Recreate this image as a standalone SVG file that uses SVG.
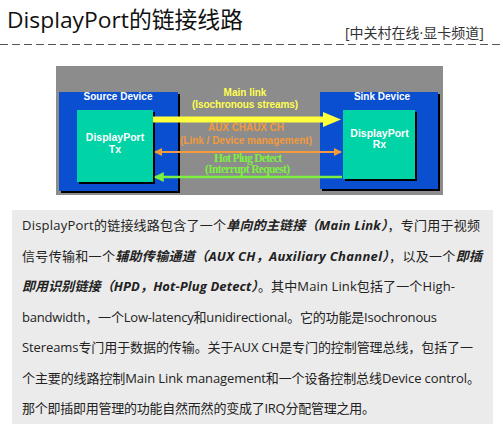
<svg xmlns="http://www.w3.org/2000/svg" width="500" height="444" viewBox="0 0 500 444">
<defs>
<style>
.cjk{font-family:"Open Sans","Noto Sans CJK SC",sans-serif;fill:#222}
.dia{font-family:"Liberation Sans",Arial,sans-serif;font-weight:bold;text-anchor:middle}
.ser{font-family:"Liberation Serif","Times New Roman",serif;font-weight:bold;text-anchor:middle}
.w{fill:#ffffff}
.b{font-weight:bold;font-style:italic}
.shadow{fill:#000}
.blue{fill:#0a4fd0}
.teal{fill:#00d3a6}
</style>
<marker id="oa" viewBox="0 0 8 8" refX="7" refY="4" markerWidth="4" markerHeight="4" orient="auto-start-reverse" markerUnits="strokeWidth">
<path d="M0,0 L8,4 L0,8 z" fill="#f39a3c"/>
</marker>
<marker id="ga" viewBox="0 0 8 8" refX="7" refY="4" markerWidth="4" markerHeight="4" orient="auto-start-reverse" markerUnits="strokeWidth">
<path d="M0,0 L8,4 L0,8 z" fill="#7cf040"/>
</marker>
</defs>
<rect width="500" height="444" fill="#ffffff"/>
<g id="header">
<text x="7" y="28" class="cjk" style="font-size:22.5px;fill:#111" textLength="236" lengthAdjust="spacingAndGlyphs">DisplayPort的链接线路</text>
<text x="345" y="38" class="cjk" style="font-size:14px;fill:#333">[中关村在线·显卡频道]</text>
<line x1="0" y1="44.5" x2="500" y2="44.5" stroke="#555" stroke-width="1" stroke-dasharray="8,4"/>
</g>
<g id="diagram-bg">
<rect x="56" y="66" width="387" height="129" fill="#8c8c8c"/>
</g>
<g id="source-device">
<rect x="61" y="94" width="119" height="99" class="shadow"/>
<rect x="59" y="92" width="119" height="99" class="blue"/>
<text x="118" y="99.5" class="dia w" style="font-size:10px">Source Device</text>
</g>
<g id="tx">
<rect x="79" y="112" width="76" height="72" class="shadow"/>
<rect x="77" y="110" width="76" height="72" class="teal"/>
<text x="115" y="141" class="dia w" style="font-size:10.5px">DisplayPort</text>
<text x="115" y="153" class="dia w" style="font-size:10.5px">Tx</text>
</g>
<g id="sink-device">
<rect x="322" y="94" width="118" height="97" class="shadow"/>
<rect x="320" y="92" width="118" height="97" class="blue"/>
<text x="382" y="99.5" class="dia w" style="font-size:10px">Sink Device</text>
</g>
<g id="rx">
<rect x="345" y="112" width="72" height="69" class="shadow"/>
<rect x="343" y="110" width="72" height="69" class="teal"/>
<text x="379.5" y="137" class="dia w" style="font-size:10.5px">DisplayPort</text>
<text x="379.5" y="148" class="dia w" style="font-size:10.5px">Rx</text>
</g>
<g id="connectors">
<rect x="153" y="116.5" width="172" height="6" fill="#ffff3c"/>
<polygon points="323,112 341,119.5 323,127" fill="#ffff3c"/>
<line x1="155" y1="152" x2="341" y2="152" stroke="#f39a3c" stroke-width="2" marker-start="url(#oa)" marker-end="url(#oa)"/>
<line x1="342" y1="177" x2="155" y2="177" stroke="#7cf040" stroke-width="2.5" marker-end="url(#ga)"/>
<text x="245" y="96" class="dia" style="font-size:10px;fill:#ffff50">Main link</text>
<text x="245" y="108" class="dia" style="font-size:10px;fill:#ffff50" textLength="106">(Isochronous streams)</text>
<text x="246" y="131" class="dia" style="font-size:10px;fill:#f39a3c" textLength="76">AUX CHAUX CH</text>
<text x="246" y="144" class="dia" style="font-size:10px;fill:#f39a3c" textLength="132">(Link / Device management)</text>
<text x="248" y="162" class="ser" style="font-size:11.5px;fill:#7cf040" textLength="68">Hot Plug Detect</text>
<text x="247.5" y="173" class="ser" style="font-size:11.5px;fill:#7cf040" textLength="85">(Interrupt Request)</text>
</g>
<g id="description">
<rect x="12" y="210" width="481" height="214" fill="#ebebeb"/>
<g class="cjk" style="font-size:13px">
<text x="22" y="230" textLength="458">DisplayPort的链接线路包含了一个<tspan class="b">单向的主链接（Main Link）</tspan>，专门用于视频</text>
<text x="22" y="260.5" textLength="460">信号传输和一个<tspan class="b">辅助传输通道（AUX CH，Auxiliary Channel）</tspan>，以及一个<tspan class="b">即插</tspan></text>
<text x="22" y="291" textLength="433"><tspan class="b">即用识别链接（HPD，Hot-Plug Detect）</tspan>。其中Main Link包括了一个High-</text>
<text x="22" y="321.5" textLength="415">bandwidth，一个Low-latency和unidirectional。它的功能是Isochronous</text>
<text x="22" y="352" textLength="451">Stereams专门用于数据的传输。关于AUX CH是专门的控制管理总线，包括了一</text>
<text x="22" y="382.5" textLength="458">个主要的线路控制Main Link management和一个设备控制总线Device control。</text>
<text x="22" y="413" textLength="353">那个即插即用管理的功能自然而然的变成了IRQ分配管理之用。</text>
</g>
</g>
</svg>
